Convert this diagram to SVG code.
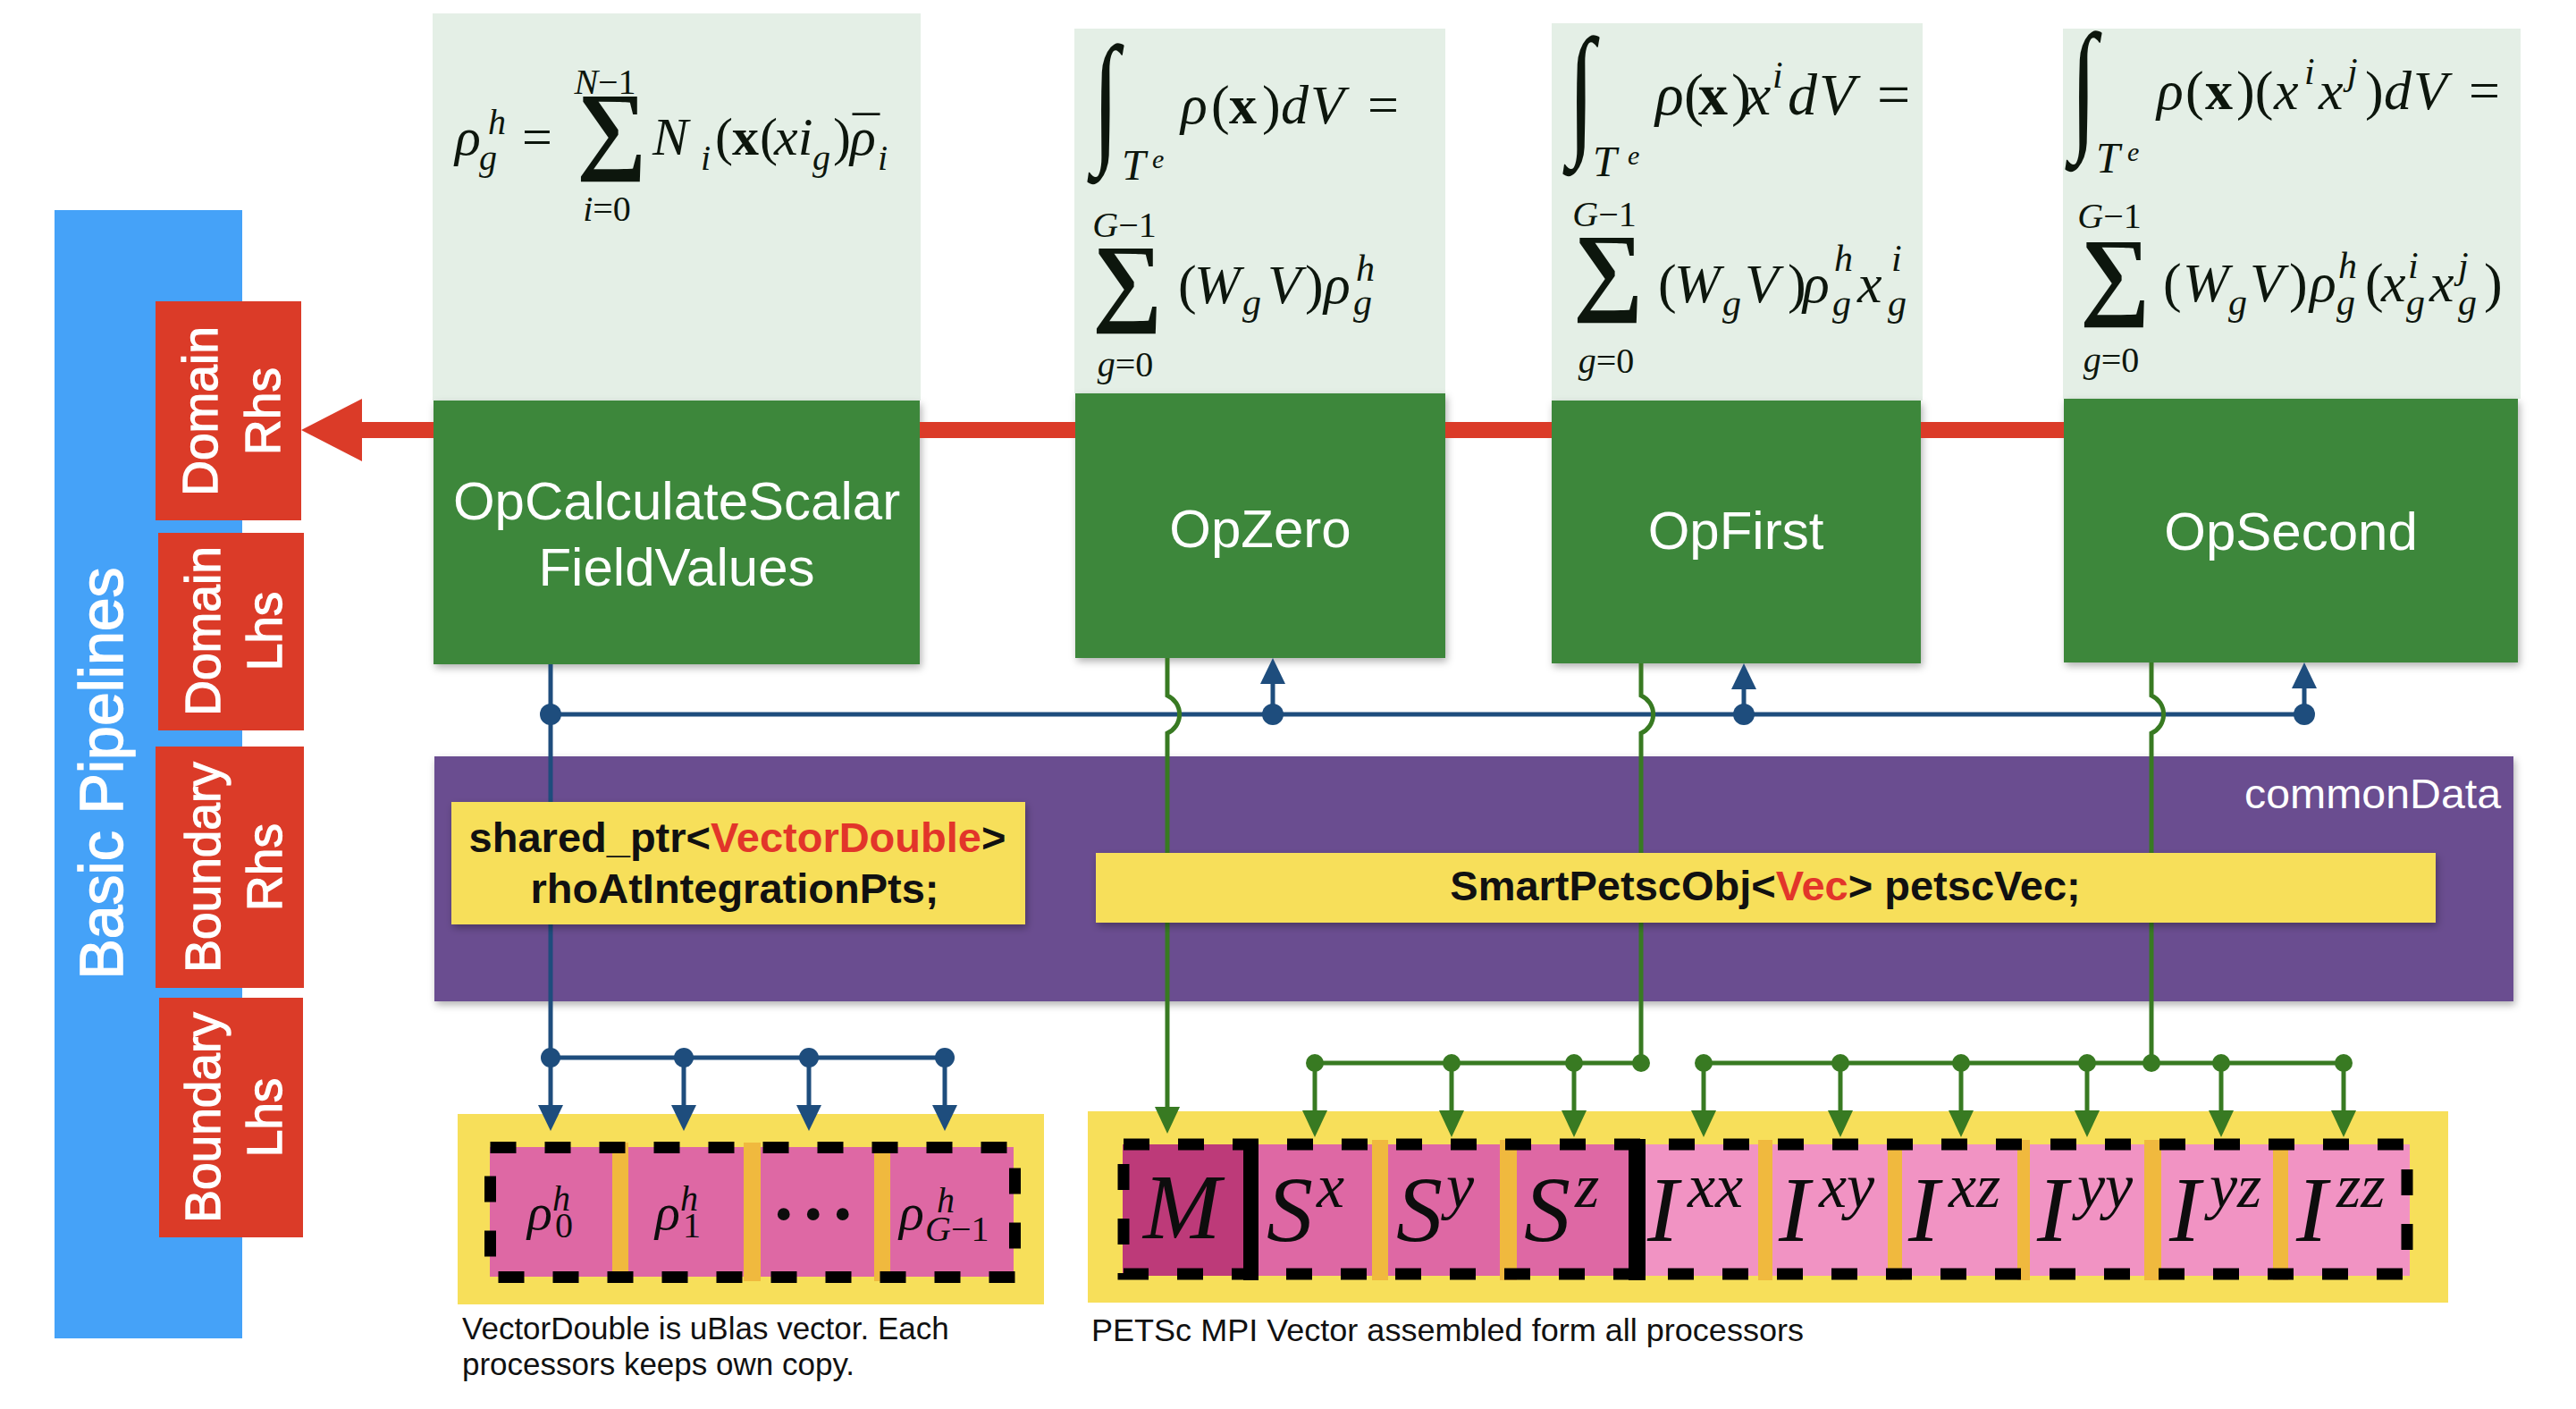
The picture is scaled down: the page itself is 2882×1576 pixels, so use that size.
<svg xmlns="http://www.w3.org/2000/svg" width="2882" height="1576" viewBox="0 0 2882 1576">
<defs>
<style>
.node{font-family:"Liberation Sans",Arial,sans-serif;font-size:60px;fill:#fff;text-anchor:middle}
.lbl{font-family:"Liberation Sans",Arial,sans-serif;font-size:55px;fill:#fff;stroke:#fff;stroke-width:1.3px;text-anchor:middle}
.code{font-family:"Liberation Sans",Arial,sans-serif;font-size:47px;font-weight:bold;fill:#111;text-anchor:middle}
.red{fill:#e2352a}
.cap{font-family:"Liberation Sans",Arial,sans-serif;font-size:35px;fill:#111}
.m{font-family:"Liberation Serif","DejaVu Serif",serif;font-style:italic;font-size:62px;fill:#0d160d}
.r{font-style:normal}
.b{font-style:normal;font-weight:bold}
.s{font-size:42px}
.t{font-size:30px}
.tt{font-size:48px}
.lim{font-size:40px;text-anchor:middle}
.int{font-family:"Liberation Serif","DejaVu Serif",serif;font-size:140px;fill:#0d160d}
.sum{font-family:"Liberation Serif","DejaVu Serif",serif;font-size:110px;font-weight:bold;fill:#0d160d}
.cell{font-family:"Liberation Serif","DejaVu Serif",serif;font-style:italic;font-size:104px;fill:#0d0d0d}
.cs{font-size:70px}
.rc{font-family:"Liberation Serif","DejaVu Serif",serif;font-style:italic;font-size:58px;fill:#0d0d0d}
.rs{font-size:40px}
.light{fill:#e4efe6}
.green{fill:#3c873b}
.redbox{fill:#db3b28}
.yel{fill:#f7df5a}
.pk{fill:#de68a4}
.pkd{fill:#bd3a79}
.pkl{fill:#f193c3}
.sep{fill:#f0b93e}
.dash{fill:none;stroke:#000;stroke-width:13;stroke-dasharray:29 32}
.nv{fill:none;stroke:#1e4d7d;stroke-width:5}
.gr{fill:none;stroke:#387a22;stroke-width:5}
.dnv{fill:#1e4d7d}
.dgr{fill:#387a22}
</style>
<filter id="sh" x="-5%" y="-5%" width="110%" height="120%">
<feDropShadow dx="2" dy="4" stdDeviation="4" flood-color="#000" flood-opacity="0.3"/>
</filter>
<marker id="ab" viewBox="0 0 29 28" refX="19" refY="14" markerWidth="29" markerHeight="28" markerUnits="userSpaceOnUse" orient="auto">
<path d="M0,0 L29,14 L0,28 z" fill="#1e4d7d"/>
</marker>
<marker id="ag" viewBox="0 0 30 28" refX="20" refY="14" markerWidth="30" markerHeight="28" markerUnits="userSpaceOnUse" orient="auto">
<path d="M0,0 L30,14 L0,28 z" fill="#387a22"/>
</marker>
<marker id="ar" viewBox="0 0 68 70" refX="45" refY="35" markerWidth="68" markerHeight="70" markerUnits="userSpaceOnUse" orient="auto">
<path d="M0,0 L68,35 L0,70 z" fill="#db3b28"/>
</marker>
</defs>
<rect width="2882" height="1576" fill="#fff"/>

<g id="pipeline-bar">
<rect x="61" y="235" width="210" height="1262" fill="#45a2f8"/>
<text class="lbl" style="font-size:68px;stroke-width:1.5px" transform="translate(137,865) rotate(-90)">Basic Pipelines</text>
</g>
<g id="domain-rhs">
<rect class="redbox" x="174" y="337" width="163" height="245"/>
<text class="lbl" transform="translate(243,460) rotate(-90)">Domain</text>
<text class="lbl" transform="translate(313,460) rotate(-90)">Rhs</text>
</g>
<g id="domain-lhs">
<rect class="redbox" x="177" y="596" width="163" height="221"/>
<text class="lbl" transform="translate(246,706) rotate(-90)">Domain</text>
<text class="lbl" transform="translate(315,706) rotate(-90)">Lhs</text>
</g>
<g id="boundary-rhs">
<rect class="redbox" x="174" y="835" width="166" height="270"/>
<text class="lbl" transform="translate(246,970) rotate(-90)">Boundary</text>
<text class="lbl" transform="translate(315,970) rotate(-90)">Rhs</text>
</g>
<g id="boundary-lhs">
<rect class="redbox" x="178" y="1116" width="161" height="268"/>
<text class="lbl" transform="translate(246,1250) rotate(-90)">Boundary</text>
<text class="lbl" transform="translate(315,1250) rotate(-90)">Lhs</text>
</g>

<g id="op-calculate">
<rect class="light" x="484" y="15" width="546" height="433"/>
<text class="m" style="font-size:60px"><tspan x="509" y="173">ρ</tspan><tspan style="font-size:40px" x="546" y="150">h</tspan><tspan style="font-size:40px" x="536" y="190">g</tspan><tspan class="r" x="584" y="173">=</tspan><tspan x="730" y="173">N</tspan><tspan style="font-size:40px" x="784" y="190">i</tspan><tspan class="r" x="800" y="173">(</tspan><tspan class="b" x="819" y="173">x</tspan><tspan class="r" x="850" y="173">(</tspan><tspan x="866" y="173">xi</tspan><tspan style="font-size:40px" x="909" y="190">g</tspan><tspan class="r" x="932" y="173">)</tspan><tspan x="951" y="173">ρ</tspan><tspan class="r" x="954" y="171">¯</tspan><tspan style="font-size:40px" x="982" y="190">i</tspan></text>
<text class="sum" x="645" y="180">∑</text>
<text class="m lim" x="677" y="105">N<tspan class="r">−1</tspan></text>
<text class="m lim" x="679" y="247">i<tspan class="r">=0</tspan></text>
<rect class="green" x="485" y="448" width="544" height="295" filter="url(#sh)"/>
<text class="node" x="757" y="581">OpCalculateScalar</text>
<text class="node" x="757" y="655">FieldValues</text>
</g>

<g id="op-zero">
<rect class="light" x="1202" y="32" width="415" height="408"/>
<text class="int" transform="translate(1222,163) scale(0.78,1.15)">∫</text>
<text class="m tt"><tspan x="1255" y="201">T</tspan><tspan class="t" x="1289" y="188">e</tspan></text>
<text class="m"><tspan x="1321" y="138">ρ</tspan><tspan class="r" x="1355" y="138">(</tspan><tspan class="b" x="1375" y="138">x</tspan><tspan class="r" x="1412" y="138">)</tspan><tspan x="1433" y="138">d</tspan><tspan x="1466" y="138">V</tspan><tspan class="r" x="1530" y="138">=</tspan></text>
<text class="m lim" x="1258" y="265">G<tspan class="r">−1</tspan></text>
<text class="sum" x="1222" y="350">∑</text>
<text class="m"><tspan class="r" x="1318" y="339">(</tspan><tspan x="1336" y="339">W</tspan><tspan class="s" x="1390" y="352">g</tspan><tspan x="1418" y="339">V</tspan><tspan class="r" x="1460" y="339">)</tspan><tspan x="1481" y="339">ρ</tspan><tspan class="s" x="1517" y="314">h</tspan><tspan class="s" x="1514" y="352">g</tspan></text>
<text class="m lim" x="1259" y="421">g<tspan class="r">=0</tspan></text>
<rect class="green" x="1203" y="440" width="414" height="296" filter="url(#sh)"/>
<text class="node" x="1410" y="612">OpZero</text>
</g>

<g id="op-first">
<rect class="light" x="1736" y="26" width="415" height="422"/>
<text class="int" transform="translate(1754,154) scale(0.78,1.15)">∫</text>
<text class="m tt"><tspan x="1782" y="197">T</tspan><tspan class="t" x="1821" y="184">e</tspan></text>
<text class="m" style="font-size:66px"><tspan x="1852" y="128">ρ</tspan><tspan class="r" x="1884" y="128">(</tspan><tspan class="b" x="1900" y="128">x</tspan><tspan class="r" x="1937" y="128">)</tspan><tspan x="1952" y="128">x</tspan><tspan class="s" x="1983" y="98">i</tspan><tspan x="2000" y="128">d</tspan><tspan x="2035" y="128">V</tspan><tspan class="r" x="2100" y="128">=</tspan></text>
<text class="m lim" x="1795" y="253">G<tspan class="r">−1</tspan></text>
<text class="sum" x="1760" y="338">∑</text>
<text class="m"><tspan class="r" x="1855" y="338">(</tspan><tspan x="1873" y="338">W</tspan><tspan class="s" x="1927" y="353">g</tspan><tspan x="1952" y="338">V</tspan><tspan class="r" x="2000" y="338">)</tspan><tspan x="2017" y="338">ρ</tspan><tspan class="s" x="2052" y="303">h</tspan><tspan class="s" x="2050" y="353">g</tspan><tspan x="2078" y="338">x</tspan><tspan class="s" x="2116" y="303">i</tspan><tspan class="s" x="2112" y="353">g</tspan></text>
<text class="m lim" x="1797" y="417">g<tspan class="r">=0</tspan></text>
<rect class="green" x="1736" y="448" width="413" height="294" filter="url(#sh)"/>
<text class="node" x="1942" y="614">OpFirst</text>
</g>

<g id="op-second">
<rect class="light" x="2308" y="32" width="512" height="414"/>
<text class="int" transform="translate(2316,149) scale(0.78,1.15)">∫</text>
<text class="m tt"><tspan x="2345" y="193">T</tspan><tspan class="t" x="2380" y="180">e</tspan></text>
<text class="m"><tspan x="2413" y="122">ρ</tspan><tspan class="r" x="2445" y="122">(</tspan><tspan class="b" x="2467" y="122">x</tspan><tspan class="r" x="2502" y="122">)(</tspan><tspan x="2544" y="122">x</tspan><tspan class="s" x="2578" y="94">i</tspan><tspan x="2594" y="122">x</tspan><tspan class="s" x="2626" y="94">j</tspan><tspan class="r" x="2646" y="122">)</tspan><tspan x="2667" y="122">d</tspan><tspan x="2700" y="122">V</tspan><tspan class="r" x="2762" y="122">=</tspan></text>
<text class="m lim" x="2360" y="255">G<tspan class="r">−1</tspan></text>
<text class="sum" x="2327" y="343">∑</text>
<text class="m"><tspan class="r" x="2420" y="337">(</tspan><tspan x="2442" y="337">W</tspan><tspan class="s" x="2493" y="352">g</tspan><tspan x="2517" y="337">V</tspan><tspan class="r" x="2561" y="337">)</tspan><tspan x="2584" y="337">ρ</tspan><tspan class="s" x="2616" y="311">h</tspan><tspan class="s" x="2614" y="352">g</tspan><tspan class="r" x="2646" y="337">(</tspan><tspan x="2664" y="337">x</tspan><tspan class="s" x="2694" y="311">i</tspan><tspan class="s" x="2692" y="352">g</tspan><tspan x="2718" y="337">x</tspan><tspan class="s" x="2750" y="311">j</tspan><tspan class="s" x="2750" y="352">g</tspan><tspan class="r" x="2779" y="337">)</tspan></text>
<text class="m lim" x="2362" y="416">g<tspan class="r">=0</tspan></text>
<rect class="green" x="2309" y="446" width="508" height="295" filter="url(#sh)"/>
<text class="node" x="2563" y="615">OpSecond</text>
</g>

<g id="common-data-box">
<rect x="486" y="846" width="2326" height="274" fill="#6b4d90" filter="url(#sh)"/>
<text x="2511" y="904" font-family="Liberation Sans, Arial, sans-serif" font-size="46" fill="#fff" textLength="287" lengthAdjust="spacingAndGlyphs">commonData</text>
</g>

<g id="rho-vector">
<rect class="yel" x="512" y="1246" width="656" height="213"/>
<rect class="pk" x="548" y="1283" width="137" height="145"/>
<rect class="pk" x="703" y="1283" width="129" height="145"/>
<rect class="pk" x="851" y="1283" width="127" height="145"/>
<rect class="pk" x="996" y="1283" width="138" height="145"/>
<rect class="sep" x="685" y="1278" width="18" height="155"/>
<rect class="sep" x="832" y="1278" width="19" height="155"/>
<rect class="sep" x="978" y="1278" width="18" height="155"/>
<rect class="dash" x="548.5" y="1283.5" width="587" height="145"/>
<text class="rc"><tspan x="590" y="1375">ρ</tspan><tspan class="rs" x="618" y="1354">h</tspan><tspan class="rs r" x="621" y="1384">0</tspan></text>
<text class="rc"><tspan x="733" y="1375">ρ</tspan><tspan class="rs" x="761" y="1354">h</tspan><tspan class="rs r" x="764" y="1384">1</tspan></text>
<text class="rc r" style="font-size:58px"><tspan x="866" y="1377">•</tspan><tspan x="899" y="1377">•</tspan><tspan x="932" y="1377">•</tspan></text>
<text class="rc"><tspan x="1006" y="1375">ρ</tspan><tspan class="rs" x="1048" y="1356">h</tspan><tspan class="rs" x="1035" y="1388">G</tspan><tspan class="rs r">−1</tspan></text>
</g>

<g id="petsc-vector">
<rect class="yel" x="1217" y="1243" width="1522" height="214"/>
<rect class="pkd" x="1256" y="1280" width="135" height="147"/>
<rect class="pk" x="1408" y="1280" width="127" height="147"/>
<rect class="pk" x="1553" y="1280" width="125" height="147"/>
<rect class="pk" x="1697" y="1280" width="125" height="147"/>
<rect class="pkl" x="1841" y="1280" width="126" height="147"/>
<rect class="pkl" x="1983" y="1280" width="129" height="147"/>
<rect class="pkl" x="2128" y="1280" width="129" height="147"/>
<rect class="pkl" x="2271" y="1280" width="128" height="147"/>
<rect class="pkl" x="2418" y="1280" width="125" height="147"/>
<rect class="pkl" x="2560" y="1280" width="136" height="147"/>
<rect class="sep" x="1535" y="1275" width="18" height="157"/>
<rect class="sep" x="1678" y="1275" width="19" height="157"/>
<rect class="sep" x="1967" y="1275" width="16" height="157"/>
<rect class="sep" x="2112" y="1275" width="16" height="157"/>
<rect class="sep" x="2257" y="1275" width="14" height="157"/>
<rect class="sep" x="2399" y="1275" width="19" height="157"/>
<rect class="sep" x="2543" y="1275" width="17" height="157"/>
<rect class="dash" x="1257" y="1280" width="1436" height="145"/>
<rect x="1391" y="1274" width="17" height="158" fill="#000"/>
<rect x="1822" y="1274" width="19" height="158" fill="#000"/>
<text class="cell" x="1279" y="1385">M</text>
<text class="cell"><tspan x="1417" y="1388">S</tspan><tspan class="cs" x="1473" y="1350">x</tspan></text>
<text class="cell"><tspan x="1562" y="1388">S</tspan><tspan class="cs" x="1618" y="1350">y</tspan></text>
<text class="cell"><tspan x="1705" y="1388">S</tspan><tspan class="cs" x="1762" y="1350">z</tspan></text>
<text class="cell"><tspan x="1843" y="1388">I</tspan><tspan class="cs" x="1888" y="1350">xx</tspan></text>
<text class="cell"><tspan x="1990" y="1388">I</tspan><tspan class="cs" x="2035" y="1350">xy</tspan></text>
<text class="cell"><tspan x="2135" y="1388">I</tspan><tspan class="cs" x="2180" y="1350">xz</tspan></text>
<text class="cell"><tspan x="2279" y="1388">I</tspan><tspan class="cs" x="2324" y="1350">yy</tspan></text>
<text class="cell"><tspan x="2427" y="1388">I</tspan><tspan class="cs" x="2472" y="1350">yz</tspan></text>
<text class="cell"><tspan x="2569" y="1388">I</tspan><tspan class="cs" x="2614" y="1350">zz</tspan></text>
</g>

<g id="connectors">
<path d="M485,481 H360" stroke="#db3b28" stroke-width="18" fill="none" marker-end="url(#ar)"/>
<path d="M1029,481 H1203 M1617,481 H1736 M2149,481 H2309" stroke="#db3b28" stroke-width="18" fill="none"/>
<path class="nv" d="M616,799 H2578"/>
<path class="nv" d="M616,743 V1255" marker-end="url(#ab)"/>
<path class="nv" d="M616,1183 H1057"/>
<path class="nv" d="M765,1183 V1255" marker-end="url(#ab)"/>
<path class="nv" d="M905,1183 V1255" marker-end="url(#ab)"/>
<path class="nv" d="M1057,1183 V1255" marker-end="url(#ab)"/>
<path class="nv" d="M1424,799 V746" marker-end="url(#ab)"/>
<path class="nv" d="M1951,799 V752" marker-end="url(#ab)"/>
<path class="nv" d="M2578,799 V751" marker-end="url(#ab)"/>
<circle class="dnv" cx="616" cy="799" r="12"/>
<circle class="dnv" cx="1424" cy="799" r="12"/>
<circle class="dnv" cx="1951" cy="799" r="12"/>
<circle class="dnv" cx="2578" cy="799" r="12"/>
<circle class="dnv" cx="616" cy="1183" r="11"/>
<circle class="dnv" cx="765" cy="1183" r="11"/>
<circle class="dnv" cx="905" cy="1183" r="11"/>
<circle class="dnv" cx="1057" cy="1183" r="11"/>
<path class="gr" d="M1306,736 V778 A23,23 0 0 1 1306,820 V1258" marker-end="url(#ag)"/>
<path class="gr" d="M1836,742 V778 A23,23 0 0 1 1836,820 V1189"/>
<path class="gr" d="M2407,741 V778 A23,23 0 0 1 2407,820 V1189"/>
<path class="gr" d="M1471,1189 H1836 M1906,1189 H2622"/>
<path class="gr" d="M1471,1189 V1262" marker-end="url(#ag)"/>
<path class="gr" d="M1624,1189 V1262" marker-end="url(#ag)"/>
<path class="gr" d="M1761,1189 V1262" marker-end="url(#ag)"/>
<path class="gr" d="M1906,1189 V1262" marker-end="url(#ag)"/>
<path class="gr" d="M2059,1189 V1262" marker-end="url(#ag)"/>
<path class="gr" d="M2194,1189 V1262" marker-end="url(#ag)"/>
<path class="gr" d="M2335,1189 V1262" marker-end="url(#ag)"/>
<path class="gr" d="M2485,1189 V1262" marker-end="url(#ag)"/>
<path class="gr" d="M2622,1189 V1262" marker-end="url(#ag)"/>
<circle class="dgr" cx="1471" cy="1189" r="10"/>
<circle class="dgr" cx="1624" cy="1189" r="10"/>
<circle class="dgr" cx="1761" cy="1189" r="10"/>
<circle class="dgr" cx="1836" cy="1189" r="10"/>
<circle class="dgr" cx="1906" cy="1189" r="10"/>
<circle class="dgr" cx="2059" cy="1189" r="10"/>
<circle class="dgr" cx="2194" cy="1189" r="10"/>
<circle class="dgr" cx="2335" cy="1189" r="10"/>
<circle class="dgr" cx="2407" cy="1189" r="10"/>
<circle class="dgr" cx="2485" cy="1189" r="10"/>
<circle class="dgr" cx="2622" cy="1189" r="10"/>
</g>

<g id="rho-field">
<rect class="yel" x="505" y="897" width="642" height="137" filter="url(#sh)"/>
<text class="code" x="825" y="953">shared_ptr&lt;<tspan class="red">VectorDouble</tspan>&gt;</text>
<text class="code" x="822" y="1010">rhoAtIntegrationPts;</text>
</g>
<g id="petsc-field">
<rect class="yel" x="1226" y="954" width="1499" height="78" filter="url(#sh)"/>
<text class="code" x="1975" y="1007">SmartPetscObj&lt;<tspan class="red">Vec</tspan>&gt; petscVec;</text>
</g>

<g id="captions">
<text class="cap" x="517" y="1498">VectorDouble is uBlas vector. Each</text>
<text class="cap" x="517" y="1538">processors keeps own copy.</text>
<text class="cap" x="1221" y="1500" textLength="797" lengthAdjust="spacingAndGlyphs">PETSc MPI Vector assembled form all processors</text>
</g>
</svg>
